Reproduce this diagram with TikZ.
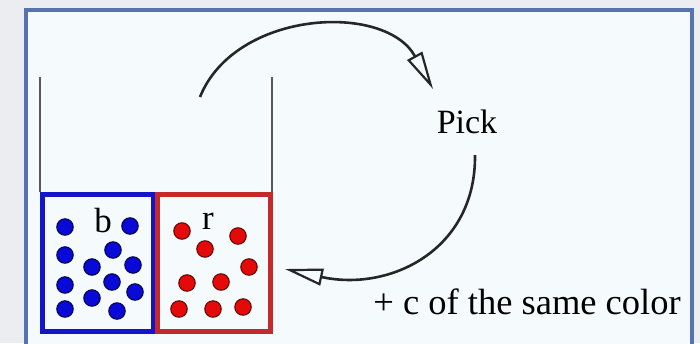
\documentclass[tikz,border=0pt]{standalone}
\usepackage{fontspec}
\setmainfont{Liberation Serif}
\usetikzlibrary{arrows.meta}
\definecolor{outerbg}{HTML}{EBEDF0}
\definecolor{panel}{HTML}{F5FBFD}
\definecolor{frameblue}{HTML}{5573B0}
\definecolor{bluebox}{HTML}{1414C8}
\definecolor{redbox}{HTML}{C42A2A}
\definecolor{bluedot}{HTML}{0A0AD8}
\definecolor{reddot}{HTML}{E40A0A}
\tikzset{
  bdot/.style={circle,fill=bluedot,draw=black!70!bluedot,line width=1pt,minimum size=16.5pt,inner sep=0pt},
  rdot/.style={circle,fill=reddot,draw=black!60!reddot,line width=1pt,minimum size=16.5pt,inner sep=0pt},
  lbl/.style={font=\fontsize{34}{36}\selectfont,inner sep=0pt},
  cycle/.style={line width=2.6pt,black!85,-{Triangle[open,length=38pt,width=17pt,line width=2.2pt]}},
  wall/.style={line width=1.4pt,black!65}
}
\begin{document}
\begin{tikzpicture}[x=1pt,y=-1pt]
\useasboundingbox (0,0) rectangle (700,343);
\fill[outerbg] (0,0) rectangle (700,343);
\draw[frameblue,fill=panel,line width=4pt] (26,10) rectangle (692,360);
% container walls
\draw[wall] (40,77) -- (40,192);
\draw[wall] (272,77) -- (272,192);
% boxes
\draw[bluebox,line width=5pt] (42.5,194.5) rectangle (153,331);
\draw[redbox,line width=5pt] (157.5,194.5) rectangle (270,331);
% labels
\node[lbl,font=\fontsize{35}{37}\selectfont] (b) at (103,221) {b};
\node[lbl,font=\fontsize{35}{37}\selectfont] (r) at (208,221) {r};
% blue dots
\foreach \p [count=\i] in {(65,227),(130,226),(65,255),(113,250),(92,267),(133,265),(65,285),(112,282),(135,292),(92,298),(65,309),(117,311)}
  \node[bdot] (bd\i) at \p {};
% red dots
\foreach \p [count=\i] in {(182,231),(238,236),(205,249),(249,267),(187,283),(221,282),(179,309),(213,309),(243,307)}
  \node[rdot] (rd\i) at \p {};
% Pick
\node[lbl] (pick) at (467,122) {Pick};
\node[lbl,font=\fontsize{36.5}{38}\selectfont] (plus) at (527,302) {+ c of the same color};
\coordinate (s1) at (200,97);
\coordinate (e1) at (433,89);
\coordinate (s2) at (475,155);
\coordinate (e2) at (285,269);
\draw[cycle] (s1) .. controls (235,10) and (385,2) .. (e1);
\draw[cycle] (s2) .. controls (476,250) and (390,292) .. (e2);
\end{tikzpicture}
\end{document}
